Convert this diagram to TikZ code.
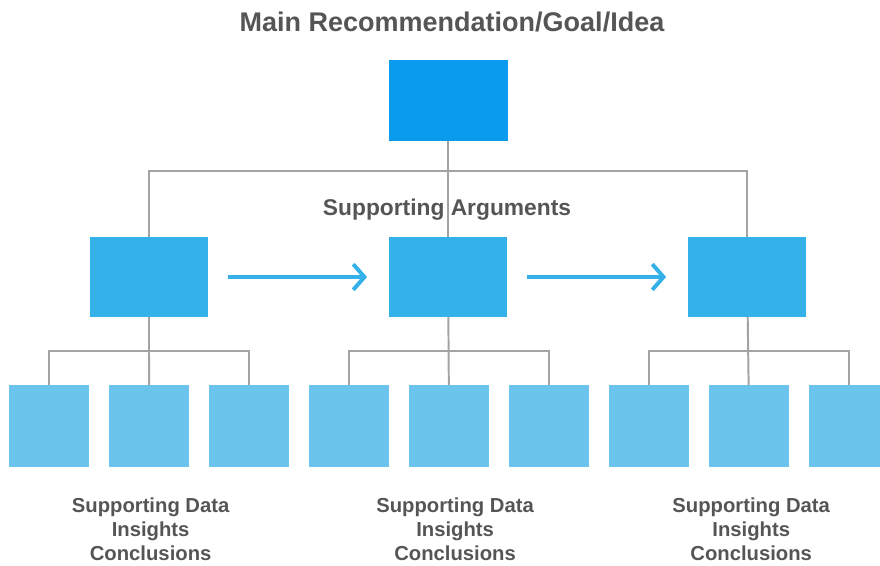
\documentclass[tikz,border=0pt]{standalone}
\usepackage{fontspec}
\setmainfont{Liberation Sans}
\definecolor{goalblue}{HTML}{0A9BEE}
\definecolor{argblue}{HTML}{34B1E9}
\definecolor{datablue}{HTML}{6AC4EB}
\definecolor{linkgray}{HTML}{A3A3A3}
\definecolor{textgray}{HTML}{555555}
\usetikzlibrary{arrows.meta,positioning}

\begin{document}
\begin{tikzpicture}[x=0.025cm, y=-0.025cm,
    every node/.style={text=textgray},
    goalbox/.style={rectangle, fill=goalblue, minimum width=2.975cm, minimum height=2.025cm, inner sep=0pt, outer sep=0pt},
    argbox/.style={rectangle, fill=argblue, minimum width=2.95cm, minimum height=2cm, inner sep=0pt, outer sep=0pt},
    databox/.style={rectangle, fill=datablue, minimum width=2cm, minimum height=2.025cm, inner sep=0pt, outer sep=0pt},
    link/.style={draw=linkgray, line width=1.4pt},
    flow/.style={draw=argblue, line width=2.8pt, -{Straight Barb[length=2.8mm, width=6.4mm]}, shorten <=0.5cm, shorten >=0.55cm},
    notes/.style={align=center, inner sep=0pt, font=\bfseries\fontsize{14.4}{17}\selectfont}]
    \clip (0,0) rectangle (880,565);
    \useasboundingbox (0,0) rectangle (880,565);

    % arguments row and the goal above it
    \node[argbox] (a1) at (149,277) {};
    \node[argbox, right=4.525cm of a1] (a2) {};
    \node[argbox, right=4.525cm of a2] (a3) {};
    \node[goalbox, above=2.4cm of a2] (top) {};

    % data boxes
    \node[databox] (d1) at (49,426) {};
    \foreach \i [count=\j from 2] in {1,...,8}
        \node[databox, right=0.5cm of d\i] (d\j) {};

    % goal to arguments
    \coordinate (hub) at (449,171);
    \draw[link] (top) -- (a2);
    \draw[link] (a1.north) |- (hub) -| (a3.north);

    % arguments to data
    \foreach \g/\l/\m/\r in {1/1/2/3, 2/4/5/6, 3/7/8/9} {
        \path (a\g.south) ++(0,34) coordinate (s\g);
        \draw[link] (a\g) -- (d\m);
        \draw[link] (d\l.north) |- (s\g) -| (d\r.north);
    }

    \draw[flow] (a1) -- (a2);
    \draw[flow] (a2) -- (a3);

    % texts
    \node[anchor=base, font=\bfseries\fontsize{19.2}{23}\selectfont] (title) at (452,32) {Main Recommendation/Goal/Idea};
    \node[anchor=base, font=\bfseries\fontsize{16.2}{19}\selectfont] (args) at (447,215) {Supporting Arguments};
    \node[notes, below=0.78cm of d2, xshift=0.04cm] (n1) {Supporting Data\\Insights\\Conclusions};
    \node[notes, below=0.78cm of d5, xshift=0.15cm] (n2) {Supporting Data\\Insights\\Conclusions};
    \node[notes, below=0.78cm of d8, xshift=0.05cm] (n3) {Supporting Data\\Insights\\Conclusions};
\end{tikzpicture}
\end{document}
